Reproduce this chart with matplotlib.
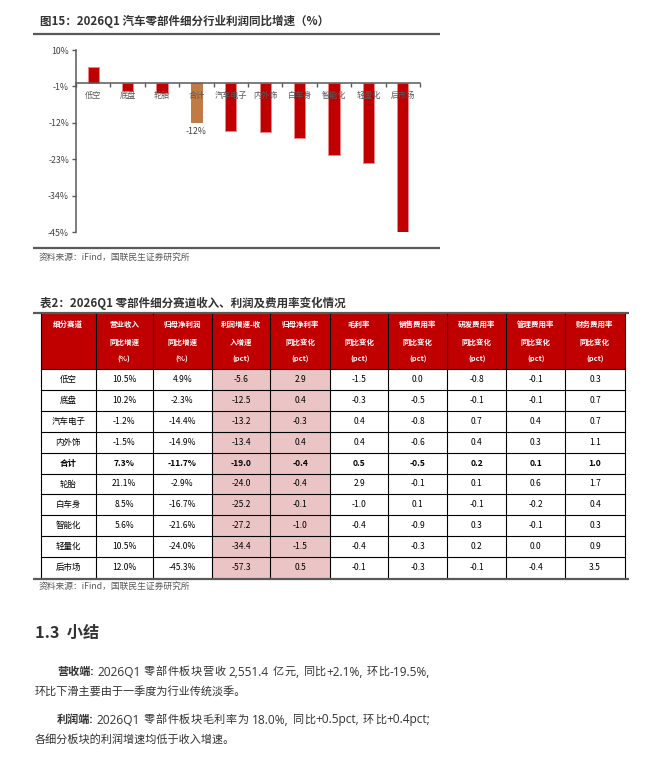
import re
import matplotlib
matplotlib.use("Agg")
import matplotlib.pyplot as plt
from matplotlib.patches import Rectangle

plt.rcParams['font.family'] = ['Noto Sans CJK SC', 'DejaVu Sans']

W, H = 671, 757

# chart data (图15)
bar_names = ['低空', '底盘', '轮胎', '合计', '汽车电子', '内外饰', '白车身', '智能化', '轻量化', '后市场']
bar_values = [4.9, -2.3, -2.9, -11.7, -14.4, -14.9, -16.7, -21.6, -24.0, -45.3]
y_ticks = [10, -1, -12, -23, -34, -45]

# table data (表2)
head_1 = ['细分赛道', '营业收入', '归母净利润', '利润增速-收', '归母净利率', '毛利率',
          '销售费用率', '研发费用率', '管理费用率', '财务费用率']
head_2 = ['', '同比增速', '同比增速', '入增速', '同比变化', '同比变化',
          '同比变化', '同比变化', '同比变化', '同比变化']
head_3 = ['', '(%)', '(%)', '(pct)', '(pct)', '(pct)', '(pct)', '(pct)', '(pct)', '(pct)']
seg_names = ['低空', '底盘', '汽车电子', '内外饰', '合计', '轮胎', '白车身', '智能化', '轻量化', '后市场']
rev_yoy = [10.5, 10.2, -1.2, -1.5, 7.3, 21.1, 8.5, 5.6, 10.5, 12.0]
np_yoy = [4.9, -2.3, -14.4, -14.9, -11.7, -2.9, -16.7, -21.6, -24.0, -45.3]
gap = [-5.6, -12.5, -13.2, -13.4, -19.0, -24.0, -25.2, -27.2, -34.4, -57.3]
npm_chg = [2.9, 0.4, -0.3, 0.4, -0.4, -0.4, -0.1, -1.0, -1.5, 0.5]
gm_chg = [-1.5, -0.3, 0.4, 0.4, 0.5, 2.9, -1.0, -0.4, -0.4, -0.1]
sell_chg = [0.0, -0.5, -0.8, -0.6, -0.5, -0.1, 0.1, -0.9, -0.3, -0.3]
rd_chg = [-0.8, -0.1, 0.7, 0.4, 0.2, 0.1, -0.1, 0.3, 0.2, -0.1]
adm_chg = [-0.1, -0.1, 0.4, 0.3, 0.1, 0.6, -0.2, -0.1, 0.0, -0.4]
fin_chg = [0.3, 0.7, 0.7, 1.1, 1.0, 1.7, 0.4, 0.3, 0.9, 3.5]

RED = '#C00000'
GRAY = '#595959'
TXT = '#333333'
BODY_FONT = ['Open Sans', 'Noto Sans CJK SC', 'DejaVu Sans']

fig = plt.figure(figsize=(W / 100, H / 100), dpi=100)

# page layer in pixel coordinates
page = fig.add_axes([0, 0, 1, 1])
page.set_xlim(0, W)
page.set_ylim(H, 0)
page.axis('off')

# ---- figure 15 ----
page.text(40, 21, '图15：2026Q1 汽车零部件细分行业利润同比增速（%）', fontsize=8.3,
          weight='bold', color=TXT, va='center')
page.plot([33, 440], [33.5, 33.5], color=GRAY, lw=1.6, solid_capstyle='butt')
page.plot([33, 440], [248, 248], color=GRAY, lw=1.6, solid_capstyle='butt')
page.text(39, 257, '资料来源：iFind，国联民生证券研究所', fontsize=6.3, color=GRAY, va='center')

ax = fig.add_axes([76 / W, 1 - 232 / H, 344 / W, 182 / H])
ax.patch.set_alpha(0)
x = range(len(bar_names))
colors = ['#C07A45' if n == '合计' else RED for n in bar_names]
edges = ['#C07A45' if n == '合计' else '#EE8888' for n in bar_names]
ax.bar(x, bar_values, width=0.33, color=colors, edgecolor=edges, linewidth=0.7, zorder=1)
ax.set_xlim(-0.5, len(bar_names) - 0.5)
ax.set_ylim(-45, 10)
for s in ['top', 'right']:
    ax.spines[s].set_visible(False)
ax.spines['bottom'].set_position(('data', 0))
for s in ['bottom', 'left']:
    ax.spines[s].set_color(GRAY)
    ax.spines[s].set_linewidth(1.1)
ax.set_xticks(list(x))
ax.set_xticklabels(bar_names)
ax.set_xticks([i + 0.5 for i in range(-1, len(bar_names))], minor=True)
ax.tick_params(axis='x', which='major', length=0, pad=5.5, labelsize=5.9, labelcolor=GRAY)
ax.tick_params(axis='x', which='minor', length=3, color=GRAY, width=1)
ax.set_yticks(y_ticks)
ax.set_yticklabels([f'{v}%' for v in y_ticks])
ax.tick_params(axis='y', length=3, color=GRAY, width=1, pad=2, labelsize=6.3, labelcolor='#404040')
i_tot = bar_names.index('合计')
ax.annotate(f'{bar_values[i_tot]:.0f}%', (i_tot, bar_values[i_tot]), xytext=(0, -4),
            textcoords='offset points', ha='center', va='top', fontsize=6.3, color='#404040')

# ---- table 2 ----
page.text(40, 303, '表2：2026Q1 零部件细分赛道收入、利润及费用率变化情况', fontsize=8.3,
          weight='bold', color=TXT, va='center')
page.plot([33, 629], [312.5, 312.5], color=GRAY, lw=1.6, solid_capstyle='butt')

col_edges = [40.7, 95.7, 152.7, 211.7, 270.3, 330, 388.3, 447.3, 506.3, 565.3, 624.7]
top, head_bot, row_h = 314, 369, 20.9
n_rows = len(seg_names)
bot = head_bot + n_rows * row_h

page.add_patch(Rectangle((col_edges[0], top), col_edges[-1] - col_edges[0], head_bot - top,
                         fc=RED, ec='none'))
page.add_patch(Rectangle((col_edges[3], head_bot), col_edges[5] - col_edges[3], bot - head_bot,
                         fc='#EBC5C5', ec='none'))
for xe in col_edges:
    page.plot([xe, xe], [top, bot], color='black', lw=0.8)
for r in range(n_rows):
    yy = head_bot + r * row_h
    page.plot([col_edges[0], col_edges[-1]], [yy, yy], color='black', lw=0.8)
page.plot([33, 629], [bot + 1.2, bot + 1.2], color=GRAY, lw=1.6, solid_capstyle='butt')

centers = [(a + b) / 2 for a, b in zip(col_edges[:-1], col_edges[1:])]
for c, l1, l2, l3 in zip(centers, head_1, head_2, head_3):
    for yy, t in zip([324, 342, 359], [l1, l2, l3]):
        if t:
            page.text(c, yy, t, fontsize=5.4, weight='bold', color='white', ha='center', va='center')

cols = [rev_yoy, np_yoy, gap, npm_chg, gm_chg, sell_chg, rd_chg, adm_chg, fin_chg]
for r, name in enumerate(seg_names):
    yc = head_bot + (r + 0.5) * row_h
    wt = 'bold' if name == '合计' else 'normal'
    cells = [name] + [f'{cols[0][r]:.1f}%', f'{cols[1][r]:.1f}%'] + [f'{c[r]:.1f}' for c in cols[2:]]
    for c, t in zip(centers, cells):
        page.text(c, yc, t, fontsize=6.1, weight=wt, color='black', ha='center', va='center')

page.text(39, 586, '资料来源：iFind，国联民生证券研究所', fontsize=6.3, color=GRAY, va='center')

# ---- 1.3 summary ----
page.text(35, 633, '1.3  小结', fontsize=11.7, weight='bold', color=TXT, va='center')

renderer = fig.canvas.get_renderer()


def text_w(s, wt, size):
    t = page.text(0, 0, 'x' + s + 'x', fontsize=size, weight=wt, family=BODY_FONT)
    w = t.get_window_extent(renderer).width
    t.set_text('xx')
    w -= t.get_window_extent(renderer).width
    t.remove()
    return w


def justified(x0, x1, y, head, body):
    # bold lead-in, then body tokens spread so the line ends at x1 (justified line)
    tokens = [(head + ' ', 'bold', 8)]
    for t in re.findall(r'(?:[!-~]+|\S) ?', body):
        tokens.append((t, 'normal', 8.6 if t.isascii() else 8))
    widths = [text_w(t, wt, sz) for t, wt, sz in tokens]
    extra = (x1 - x0 - sum(widths)) / (len(tokens) - 1)
    xx = x0
    for (t, wt, sz), w in zip(tokens, widths):
        page.text(xx, y, t.strip(), fontsize=sz, weight=wt, color=TXT, va='center', family=BODY_FONT)
        xx += w + extra


justified(57, 430, 672, '营收端:', '2026Q1 零部件板块营收 2,551.4 亿元, 同比+2.1%, 环比-19.5%,')
page.text(35, 691, '环比下滑主要由于一季度为行业传统淡季。', fontsize=8, color=TXT, va='center')
justified(57, 430, 720, '利润端:', '2026Q1 零部件板块毛利率为 18.0%, 同比+0.5pct, 环比+0.4pct;')
page.text(35, 739, '各细分板块的利润增速均低于收入增速。', fontsize=8, color=TXT, va='center')

fig.savefig('out.png', dpi=100)
